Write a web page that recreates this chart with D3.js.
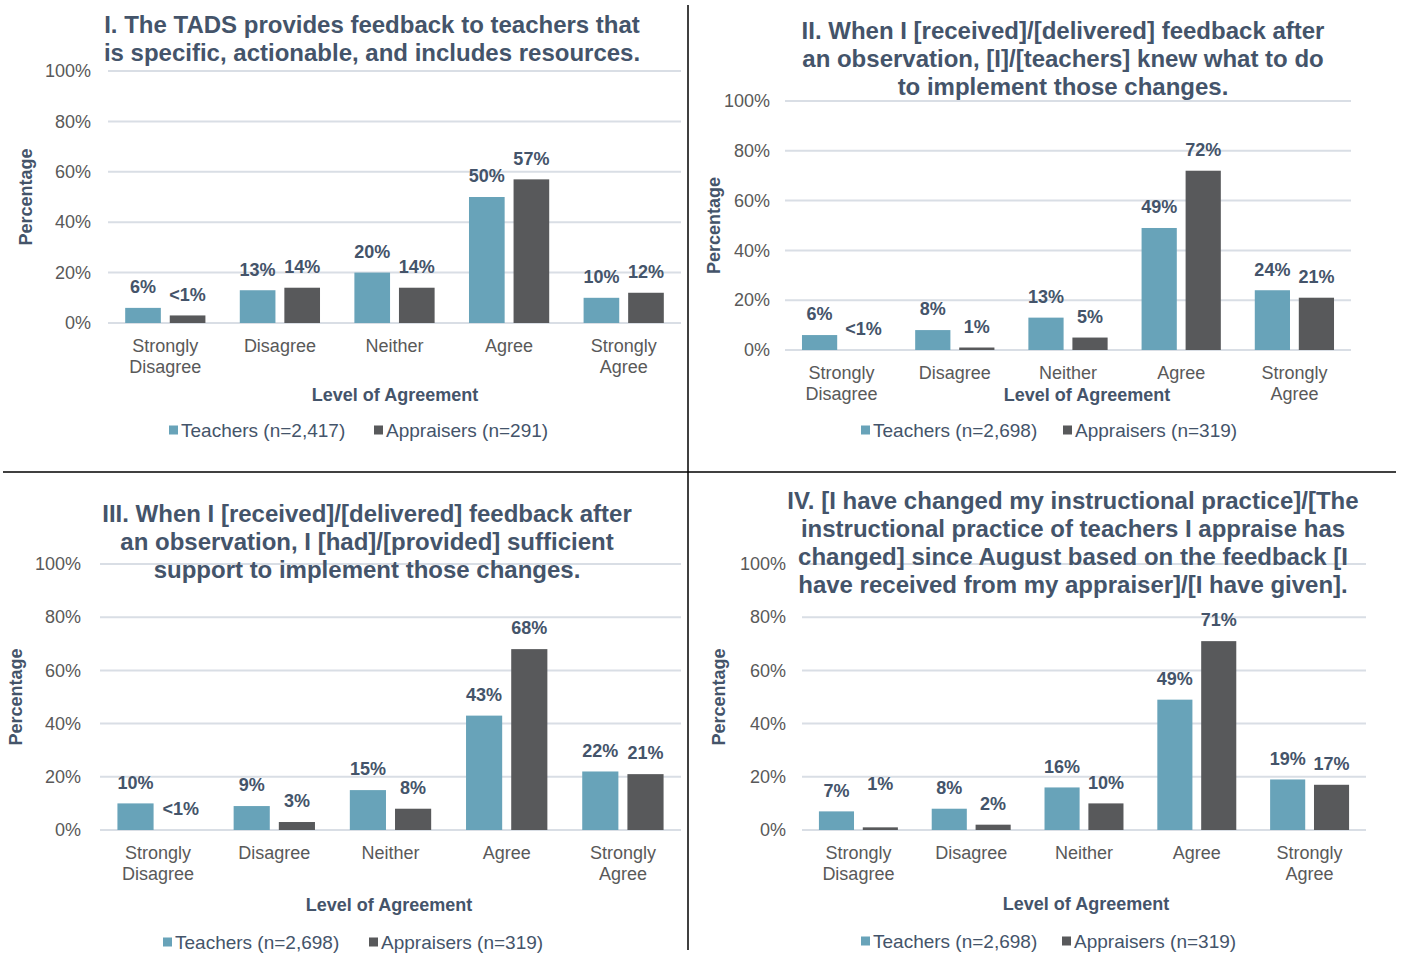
<!DOCTYPE html>
<html><head><meta charset="utf-8">
<script src="https://cdn.jsdelivr.net/npm/d3@7/dist/d3.min.js"></script>
<style>body{margin:0;background:#fff}svg text{font-family:"Liberation Sans",Arial,sans-serif}</style>
</head><body>
<svg id="chart" width="1402" height="953"></svg>
<script>
// ---------- DATA ----------
const categories = ["Strongly Disagree", "Disagree", "Neither", "Agree", "Strongly Agree"];
const categoryLines = [["Strongly", "Disagree"], ["Disagree"], ["Neither"], ["Agree"], ["Strongly", "Agree"]];
const seriesKeys = ["Teachers", "Appraisers"];
const yTicks = [0, 20, 40, 60, 80, 100];

const teachers1 = [6, 13, 20, 50, 10];
const appraisers1 = [3, 14, 14, 57, 12];
const teacherLabels1 = ["6%", "13%", "20%", "50%", "10%"];
const appraiserLabels1 = ["<1%", "14%", "14%", "57%", "12%"];
const title1 = ["I. The TADS provides feedback to teachers that", "is specific, actionable, and includes resources."];
const legend1 = ["Teachers (n=2,417)", "Appraisers (n=291)"];

const teachers2 = [6, 8, 13, 49, 24];
const appraisers2 = [0, 1, 5, 72, 21];
const teacherLabels2 = ["6%", "8%", "13%", "49%", "24%"];
const appraiserLabels2 = ["<1%", "1%", "5%", "72%", "21%"];
const title2 = ["II. When I [received]/[delivered] feedback after", "an observation, [I]/[teachers] knew what to do", "to implement those changes."];
const legend2 = ["Teachers (n=2,698)", "Appraisers (n=319)"];

const teachers3 = [10, 9, 15, 43, 22];
const appraisers3 = [0, 3, 8, 68, 21];
const teacherLabels3 = ["10%", "9%", "15%", "43%", "22%"];
const appraiserLabels3 = ["<1%", "3%", "8%", "68%", "21%"];
const title3 = ["III. When I [received]/[delivered] feedback after", "an observation, I [had]/[provided] sufficient", "support to implement those changes."];
const legend3 = ["Teachers (n=2,698)", "Appraisers (n=319)"];

const teachers4 = [7, 8, 16, 49, 19];
const appraisers4 = [1, 2, 10, 71, 17];
const teacherLabels4 = ["7%", "8%", "16%", "49%", "19%"];
const appraiserLabels4 = ["1%", "2%", "10%", "71%", "17%"];
const title4 = ["IV. [I have changed my instructional practice]/[The", "instructional practice of teachers I appraise has", "changed] since August based on the feedback [I", "have received from my appraiser]/[I have given]."];
const legend4 = ["Teachers (n=2,698)", "Appraisers (n=319)"];

const yAxisLabel = "Percentage";
const xAxisLabel = "Level of Agreement";

// ---------- STYLE / LAYOUT ----------
const colors = {Teachers: "#68A3B9", Appraisers: "#58595B"};
const textDark = "#44546A";
const tickColor = "#595959";
const gridColor = "#D9DEE5";

const panels = [
  {t: teachers1, a: appraisers1, tl: teacherLabels1, al: appraiserLabels1, title: title1, legend: legend1,
   x0: 108, x1: 681, yTop: 71, yBot: 323, tickGap: 17, titleX: 372, titleY: 25, ylabX: 26, xTitleX: 395, xTitleY: 395, legY: 430, legX: [169, 374], lift: {}},
  {t: teachers2, a: appraisers2, tl: teacherLabels2, al: appraiserLabels2, title: title2, legend: legend2,
   x0: 785, x1: 1351, yTop: 101, yBot: 350, tickGap: 15, titleX: 1063, titleY: 31, ylabX: 714, xTitleX: 1087, xTitleY: 395, legY: 430, legX: [861, 1063], lift: {}},
  {t: teachers3, a: appraisers3, tl: teacherLabels3, al: appraiserLabels3, title: title3, legend: legend3,
   x0: 100, x1: 681, yTop: 564, yBot: 830, tickGap: 19, titleX: 367, titleY: 514, ylabX: 16, xTitleX: 389, xTitleY: 905, legY: 942, legX: [163, 369], lift: {}},
  {t: teachers4, a: appraisers4, tl: teacherLabels4, al: appraiserLabels4, title: title4, legend: legend4,
   x0: 802, x1: 1366, yTop: 564, yBot: 830, tickGap: 16, titleX: 1073, titleY: 501, ylabX: 719, xTitleX: 1086, xTitleY: 904, legY: 941, legX: [861, 1062], lift: {"Appraisers-0": 23}}
];

const svg = d3.select("#chart");
svg.append("rect").attr("width", 1402).attr("height", 953).attr("fill", "#fff");

panels.forEach(p => {
  const g = svg.append("g");
  const x = d3.scaleBand().domain(categories).range([p.x0, p.x1]).paddingInner(0.3).paddingOuter(0.15);
  const x1 = d3.scaleBand().domain(seriesKeys).range([0, x.bandwidth()]).paddingInner(0.2);
  const y = d3.scaleLinear().domain([0, 100]).range([p.yBot, p.yTop]);

  // gridlines
  g.selectAll(".grid").data(yTicks).join("line")
    .attr("x1", p.x0).attr("x2", p.x1)
    .attr("y1", d => y(d)).attr("y2", d => y(d))
    .attr("stroke", gridColor).attr("stroke-width", 2);

  // y tick labels via axis
  const yAxis = d3.axisLeft(y).tickValues(yTicks).tickFormat(d => d + "%").tickSize(0).tickPadding(0);
  const ya = g.append("g").attr("transform", `translate(${p.x0 - p.tickGap},0)`).call(yAxis);
  ya.select(".domain").remove();
  ya.selectAll("text").attr("font-size", 18).attr("fill", tickColor).attr("font-family", '"Liberation Sans",Arial,sans-serif');

  // title (drawn over gridlines)
  const tt = g.append("text").attr("text-anchor", "middle").attr("font-size", 24).attr("font-weight", "bold").attr("fill", textDark);
  p.title.forEach((line, i) => {
    tt.append("tspan").attr("x", p.titleX).attr("y", p.titleY + i * 28).attr("dy", "0.35em").text(line);
  });

  // bars
  const rows = categories.map((c, i) => ({c, i}));
  const grp = g.selectAll(".cat").data(rows).join("g").attr("transform", d => `translate(${x(d.c)},0)`);
  const vals = d => [
    {k: "Teachers", v: p.t[d.i], l: p.tl[d.i], i: d.i},
    {k: "Appraisers", v: p.a[d.i], l: p.al[d.i], i: d.i}
  ];
  grp.selectAll("rect").data(vals).join("rect")
    .attr("x", d => x1(d.k)).attr("width", x1.bandwidth())
    .attr("y", d => y(d.v)).attr("height", d => y(0) - y(d.v))
    .attr("fill", d => colors[d.k]);
  grp.selectAll("text").data(vals).join("text")
    .attr("x", d => x1(d.k) + x1.bandwidth() / 2)
    .attr("y", d => y(d.v) - 21 - (p.lift[d.k + "-" + d.i] || 0)).attr("dy", "0.35em")
    .attr("text-anchor", "middle").attr("font-size", 18).attr("font-weight", "bold").attr("fill", textDark)
    .text(d => d.l);

  // category labels
  const xAxis = g.append("g");
  rows.forEach(d => {
    categoryLines[d.i].forEach((line, j) => {
      xAxis.append("text").attr("x", x(d.c) + x.bandwidth() / 2).attr("y", p.yBot + 23 + j * 21).attr("dy", "0.35em")
        .attr("text-anchor", "middle").attr("font-size", 18).attr("fill", tickColor).text(line);
    });
  });

  // axis titles
  g.append("text").attr("x", p.xTitleX).attr("y", p.xTitleY).attr("dy", "0.35em").attr("text-anchor", "middle")
    .attr("font-size", 18).attr("font-weight", "bold").attr("fill", textDark).text(xAxisLabel);
  g.append("text").attr("transform", `translate(${p.ylabX},${(p.yTop + p.yBot) / 2})rotate(-90)`).attr("dy", "0.35em")
    .attr("text-anchor", "middle").attr("font-size", 18).attr("font-weight", "bold").attr("fill", textDark).text(yAxisLabel);

  // legend
  seriesKeys.forEach((k, i) => {
    g.append("rect").attr("x", p.legX[i]).attr("y", p.legY - 4.5).attr("width", 9).attr("height", 9).attr("fill", colors[k]);
    g.append("text").attr("x", p.legX[i] + 12).attr("y", p.legY).attr("dy", "0.35em").attr("font-size", 19)
      .attr("fill", textDark).text(p.legend[i]);
  });
});

// divider lines
svg.append("line").attr("x1", 688).attr("x2", 688).attr("y1", 5).attr("y2", 950).attr("stroke", "#000").attr("stroke-width", 1.5);
svg.append("line").attr("x1", 3).attr("x2", 1396).attr("y1", 472).attr("y2", 472).attr("stroke", "#000").attr("stroke-width", 1.5);
</script>
</body></html>
